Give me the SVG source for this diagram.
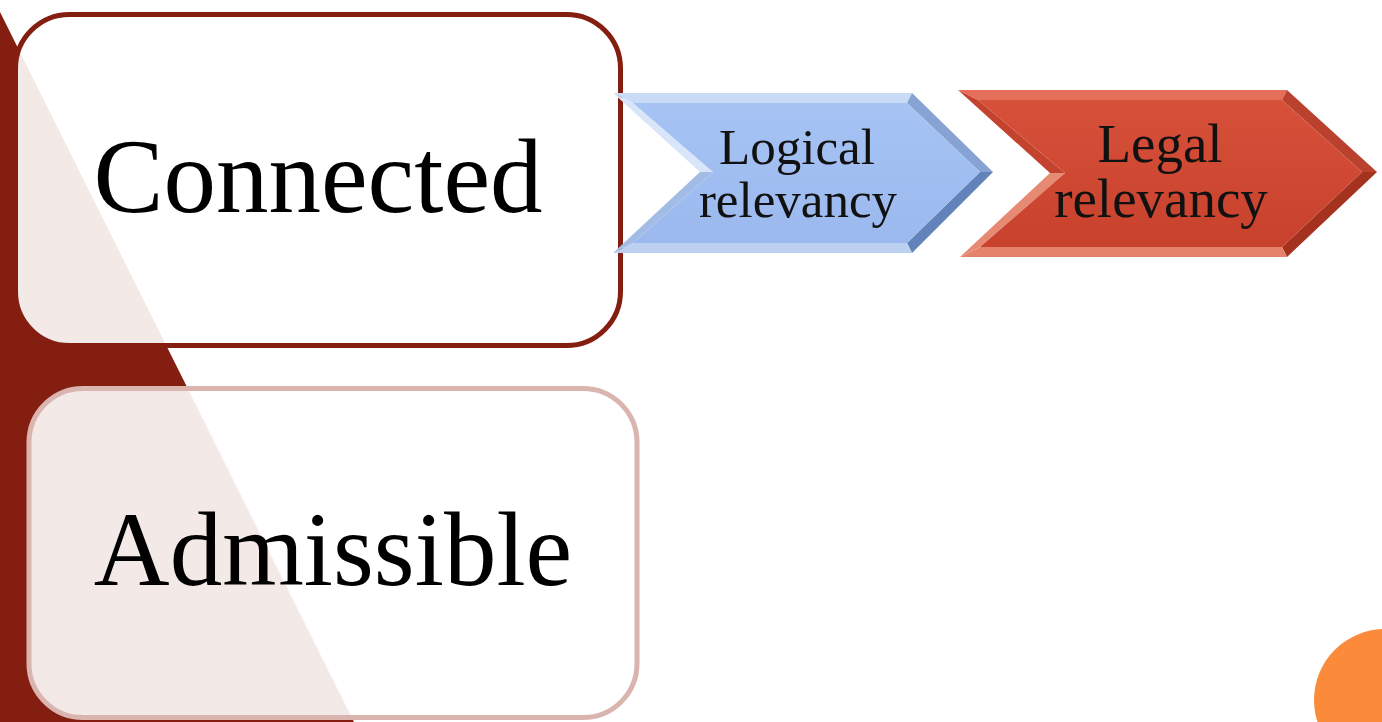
<svg xmlns="http://www.w3.org/2000/svg" width="1382" height="722" viewBox="0 0 1382 722">
<defs>
<style>
.big{font-family:"Liberation Serif","DejaVu Serif",serif;font-size:105px;fill:#000;text-anchor:middle}
.small{font-family:"Liberation Serif","DejaVu Serif",serif;fill:#111;text-anchor:middle}
.box{fill:#fff;fill-opacity:0.9}
</style>
<linearGradient id="blueFill" x1="0" y1="0" x2="0" y2="1">
<stop offset="0" stop-color="#a6c3f4"/><stop offset="1" stop-color="#9bb9ee"/>
</linearGradient>
<linearGradient id="redFill" x1="0" y1="0" x2="0" y2="1">
<stop offset="0" stop-color="#d6503a"/><stop offset="1" stop-color="#c8412c"/>
</linearGradient>
</defs>
<rect width="1382" height="722" fill="#fff"/>
<polygon points="0,12 354,722 0,722" fill="#841e10"/>
<circle cx="1385" cy="700" r="71" fill="#fb8b3a"/>
<g id="connected">
<rect class="box" x="15.5" y="14.5" width="605" height="331" rx="54" stroke="#841e10" stroke-width="5"/>
<text class="big" x="318" y="212">Connected</text>
</g>
<g id="admissible">
<rect class="box" x="29" y="388.5" width="608" height="329" rx="54" stroke="#dab5b0" stroke-width="5"/>
<text class="big" x="333" y="585">Admissible</text>
</g>
<g id="logical">
<polygon points="613,93 912,93 907,103 633,103" fill="#c9dbf7"/>
<polygon points="912,93 993,172 980,172 907,103" fill="#86a3d3"/>
<polygon points="993,172 912,253 907,243 980,172" fill="#6283ba"/>
<polygon points="912,253 613,253 633,243 907,243" fill="#bcd1f2"/>
<polygon points="613,93 633,103 713,172 700,172" fill="#d9e5f9"/>
<polygon points="700,172 713,172 633,243 613,253" fill="#a2bce6"/>
<polygon points="633,103 907,103 980,172 907,243 633,243 713,172" fill="url(#blueFill)"/>
<text class="small" font-size="51" x="797" y="164">Logical</text>
<text class="small" font-size="51" x="798" y="217">relevancy</text>
</g>
<g id="legal">
<polygon points="958,90 1287,90 1282,100 978,100" fill="#e56f58"/>
<polygon points="1287,90 1377,172 1362,172 1282,100" fill="#b9412d"/>
<polygon points="1377,172 1287,257 1282,247 1362,172" fill="#a5321f"/>
<polygon points="1287,257 960,257 980,247 1282,247" fill="#e5826c"/>
<polygon points="958,90 978,100 1065,173 1050,173" fill="#c4432e"/>
<polygon points="1050,173 1065,173 980,247 960,257" fill="#e78a74"/>
<polygon points="978,100 1282,100 1362,172 1282,247 980,247 1065,173" fill="url(#redFill)"/>
<text class="small" font-size="55" x="1160" y="162">Legal</text>
<text class="small" font-size="55" x="1161" y="217">relevancy</text>
</g>
<g id="connectors"/>
</svg>
